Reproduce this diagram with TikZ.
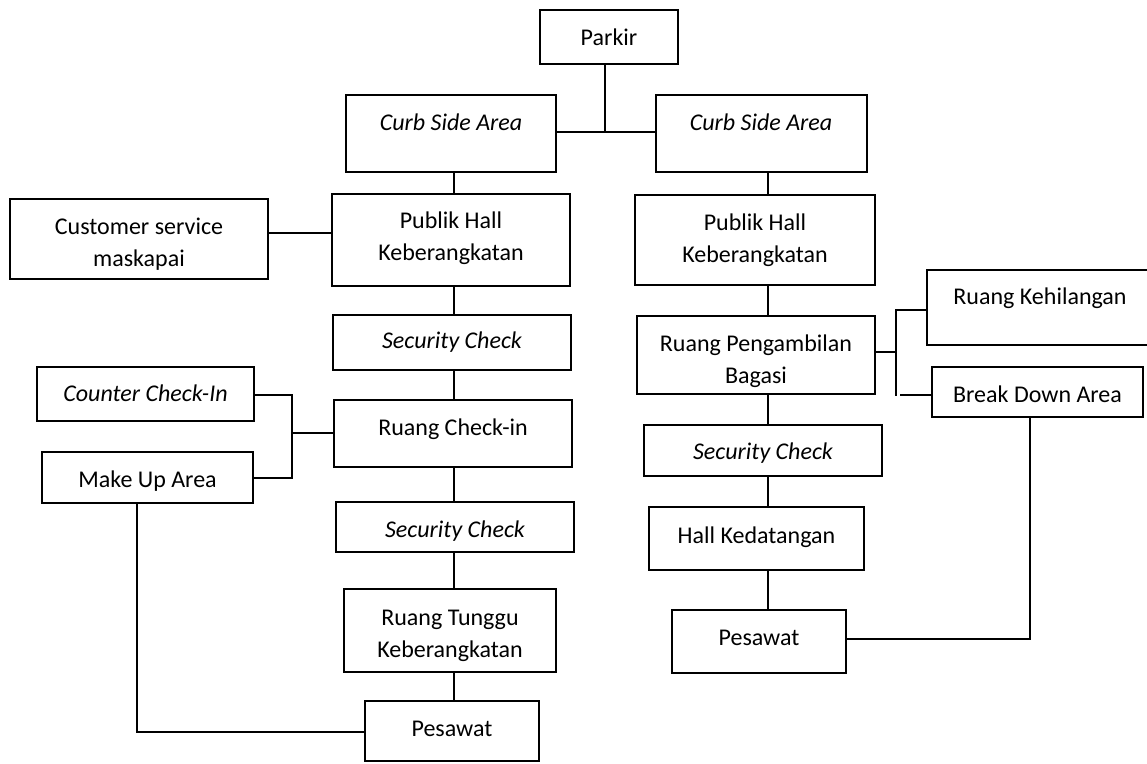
\documentclass[tikz,border=0pt]{standalone}
\usepackage{fontspec}
\setmainfont{Carlito}
% rectangle from its corners: name, x1, y1, x2, y2
\newcommand\roombox[5]{\node[box, minimum width={#4-#2}, minimum height={#5-#3}] (#1) at ({(#2+#4)/2},{(#3+#5)/2}) {};}
\begin{document}
\begin{tikzpicture}[x=1pt, y=-1pt,
  box/.style={draw=black, line width=2.7pt, inner sep=0pt, outer sep=0pt},
  wire/.style={draw=black, line width=2.7pt},
  lbl/.style={font=\fontsize{24}{32}\selectfont, inner sep=0pt, align=center},
  itl/.style={lbl, font=\fontsize{24}{32}\selectfont\itshape}]
\useasboundingbox (0,0) rectangle (1147,763);

% ---- boxes ----
\roombox{parkir}{540}{10}{678}{64}
\roombox{curbL}{346}{95}{556}{172}
\roombox{curbR}{656}{95}{867}{172}
\roombox{pubL}{332}{194}{570}{286}
\roombox{pubR}{635}{195}{875}{285}
\roombox{cust}{10}{199}{268}{279}
\roombox{secA}{333}{315}{571}{370}
\roombox{ckin}{334}{400}{572}{467}
\roombox{counter}{37}{367}{254}{421}
\roombox{makeup}{42}{452}{253}{503}
\roombox{secB}{336}{502}{574}{552}
\roombox{tunggu}{344}{589}{556}{672}
\roombox{pesL}{365}{701}{539}{761}
\roombox{pengam}{637}{316}{875}{394}
\roombox{kehil}{927}{270}{1153}{345}
\roombox{brk}{932}{367}{1143}{417}
\roombox{secR}{644}{425}{882}{476}
\roombox{hallK}{649}{507}{864}{570}
\roombox{pesR}{672}{610}{846}{673}

% ---- texts ----
\node[lbl, anchor=base] (t-parkir) at (609,45) {Parkir};
\node[itl, anchor=base] (t-curbL) at (451,130) {Curb Side Area};
\node[itl, anchor=base] (t-curbR) at (761,130) {Curb Side Area};
\node[lbl] (t-pubL) at (451,238.7) {Publik Hall\\Keberangkatan};
\node[lbl] (t-pubR) at (755,240.7) {Publik Hall\\Keberangkatan};
\node[lbl] (t-cust) at (139,243.7) {Customer service\\maskapai};
\node[itl, anchor=base] (t-secA) at (452,348) {Security Check};
\node[lbl, anchor=base] (t-ckin) at (453,435) {Ruang Check-in};
\node[itl, anchor=base] (t-counter) at (145.5,401) {Counter Check-In};
\node[lbl, anchor=base] (t-makeup) at (147.5,487) {Make Up Area};
\node[itl, anchor=base] (t-secB) at (455,537) {Security Check};
\node[lbl] (t-tunggu) at (450,635.7) {Ruang Tunggu\\Keberangkatan};
\node[lbl, anchor=base] (t-pesL) at (452,736) {Pesawat};
\node[lbl] (t-pengam) at (756,361.7) {Ruang Pengambilan\\Bagasi};
\node[lbl, anchor=base] (t-kehil) at (1040,304) {Ruang Kehilangan};
\node[lbl, anchor=base] (t-brk) at (1037.5,402) {Break Down Area};
\node[itl, anchor=base] (t-secR) at (763,459) {Security Check};
\node[lbl, anchor=base] (t-hallK) at (756.5,543) {Hall Kedatangan};
\node[lbl, anchor=base] (t-pesR) at (759,645) {Pesawat};

% ---- connector guide points ----
\coordinate (hub) at (605,132);
\coordinate (colL) at (454,0);
\coordinate (colR) at (768,0);
\coordinate (custY) at (0,233);
\coordinate (brL) at (292,433);
\coordinate (brLtop) at (292,395);
\coordinate (brLbot) at (292,478);
\coordinate (mkX) at (137,0);
\coordinate (mkCorner) at (137,732);
\coordinate (brR) at (896,352);
\coordinate (brRtop) at (896,310);
\coordinate (brRbot) at (896,396);
\coordinate (brRlow) at (900,395);
\coordinate (bdX) at (1030,0);
\coordinate (bdCorner) at (1030,639);

% ---- connectors ----
\draw[wire] (parkir.south -| hub) -- (hub);
\draw[wire] (curbL.east |- hub) -- (curbR.west |- hub);

\draw[wire] (curbL.south -| colL) -- (pubL.north -| colL);
\draw[wire] (pubL.south -| colL) -- (secA.north -| colL);
\draw[wire] (secA.south -| colL) -- (ckin.north -| colL);
\draw[wire] (ckin.south -| colL) -- (secB.north -| colL);
\draw[wire] (secB.south -| colL) -- (tunggu.north -| colL);
\draw[wire] (tunggu.south -| colL) -- (pesL.north -| colL);

\draw[wire] (cust.east |- custY) -- (pubL.west |- custY);
\draw[wire] (counter.east |- brLtop) -- (brLtop) -- (brLbot) -- (makeup.east |- brLbot);
\draw[wire] (brL) -- (ckin.west |- brL);
\draw[wire] (makeup.south -| mkX) -- (mkCorner) -- (pesL.west |- mkCorner);

\draw[wire] (curbR.south -| colR) -- (pubR.north -| colR);
\draw[wire] (pubR.south -| colR) -- (pengam.north -| colR);
\draw[wire] (pengam.south -| colR) -- (secR.north -| colR);
\draw[wire] (secR.south -| colR) -- (hallK.north -| colR);
\draw[wire] (hallK.south -| colR) -- (pesR.north -| colR);

\draw[wire] (pengam.east |- brR) -- (brR);
\draw[wire] (kehil.west |- brRtop) -- (brRtop) -- (brRbot);
\draw[wire] (brRlow) -- (brk.west |- brRlow);
\draw[wire] (brk.south -| bdX) -- (bdCorner) -- (pesR.east |- bdCorner);
\end{tikzpicture}
\end{document}
